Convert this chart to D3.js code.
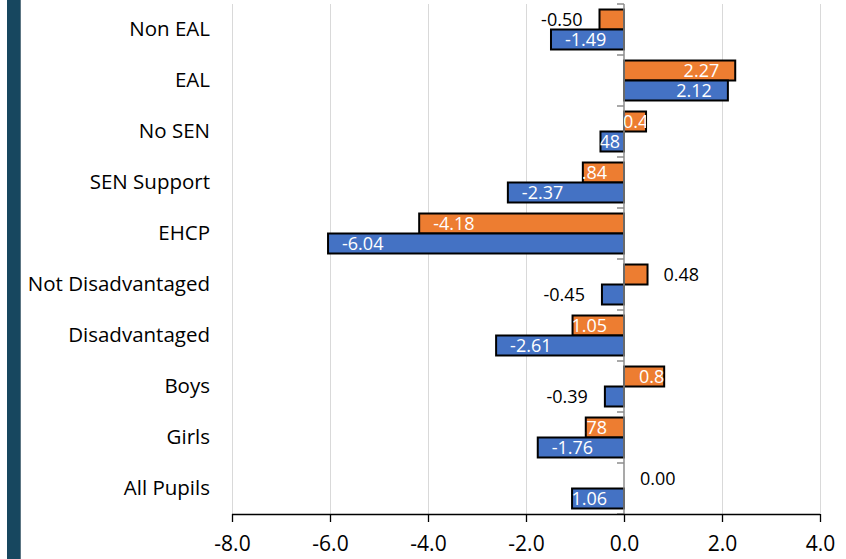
<!DOCTYPE html>
<html>
<head>
<meta charset="utf-8">
<script src="https://cdn.jsdelivr.net/npm/d3@7"></script>
<style>
  html, body { margin: 0; padding: 0; background: #fff; }
  svg { display: block; font-family: "Open Sans", "Liberation Sans", sans-serif; }
</style>
</head>
<body>
<svg id="chart" width="846" height="559"></svg>
<script>
// ---- data ----
const categories = ["Non EAL", "EAL", "No SEN", "SEN Support", "EHCP",
  "Not Disadvantaged", "Disadvantaged", "Boys", "Girls", "All Pupils"];
const seriesOrange = [-0.50, 2.27, 0.45, -0.84, -4.18, 0.48, -1.05, 0.82, -0.78, 0.00];
const seriesBlue = [-1.49, 2.12, -0.48, -2.37, -6.04, -0.45, -2.61, -0.39, -1.76, -1.06];
const xTickValues = [-8, -6, -4, -2, 0, 2, 4];

// ---- layout ----
const svg = d3.select("#chart");
const plot = { left: 232, right: 820, top: 4, bottom: 514 };
const colors = { o: "#ED7D31", b: "#4472C4" };
// labels that sit outside their bar in black
const outsideLabels = new Set(["o|Non EAL", "o|Not Disadvantaged", "o|All Pupils",
  "b|Not Disadvantaged", "b|Boys"]);

const loc = d3.formatLocale({ decimal: ".", thousands: ",", grouping: [3], currency: ["", ""], minus: "-" });
const fmt2 = loc.format(".2f");
const fmt1 = loc.format(".1f");

const x = d3.scaleLinear().domain([-8, 4]).range([plot.left, plot.right]);
const y = d3.scaleBand().domain(categories).range([plot.top, plot.bottom])
  .paddingInner(0.216).paddingOuter(0.108);
const ySub = d3.scaleBand().domain(["o", "b"]).range([0, y.bandwidth()]);

const rows = categories.map((c, i) => ({ cat: c, o: seriesOrange[i], b: seriesBlue[i] }));

// left decorative band
svg.append("rect").attr("x", 7).attr("y", 0).attr("width", 14).attr("height", 559).attr("fill", "#17475F");
svg.append("rect").attr("x", 20).attr("y", 0).attr("width", 1).attr("height", 559).attr("fill", "#5d7684");

// gridlines
svg.append("g").selectAll("line").data(xTickValues.filter(v => v !== 0)).join("line")
  .attr("x1", d => x(d) + 0.5).attr("x2", d => x(d) + 0.5)
  .attr("y1", plot.top).attr("y2", plot.bottom)
  .attr("stroke", "#d9d9d9").attr("stroke-width", 1);

// bars
const defs = svg.append("defs");
const barItems = [];
rows.forEach((r, i) => {
  ["o", "b"].forEach(k => {
    barItems.push({ cat: r.cat, key: k, v: r[k], id: "clip" + i + k });
  });
});
const barX = d => Math.min(x(0), x(d.v));
const barW = d => Math.abs(x(d.v) - x(0));
const barY = d => y(d.cat) + ySub(d.key);
const barH = ySub.bandwidth();

defs.selectAll("clipPath").data(barItems).join("clipPath").attr("id", d => d.id)
  .append("rect").attr("x", barX).attr("y", barY).attr("width", barW).attr("height", barH);

svg.append("g").selectAll("rect").data(barItems).join("rect")
  .attr("x", barX).attr("y", barY).attr("width", barW).attr("height", barH)
  .attr("fill", d => colors[d.key]).attr("stroke", "#000").attr("stroke-width", 2);

// zero axis (category axis)
const zx = x(0);
svg.append("line").attr("x1", zx).attr("x2", zx).attr("y1", plot.top).attr("y2", plot.bottom)
  .attr("stroke", "#8c8c8c").attr("stroke-width", 1.5);
const bounds = d3.range(categories.length + 1).map(i => plot.top + i * y.step());
svg.append("g").selectAll("line").data(bounds).join("line")
  .attr("x1", zx - 7).attr("x2", zx).attr("y1", d => d).attr("y2", d => d)
  .attr("stroke", "#8c8c8c").attr("stroke-width", 1.5);

// x axis
const xAxis = svg.append("g").attr("transform", `translate(0,${plot.bottom})`)
  .call(d3.axisBottom(x).tickValues(xTickValues).tickFormat(fmt1).tickSize(8).tickPadding(14));
xAxis.select(".domain").attr("stroke", "#000").attr("stroke-width", 1.3).attr("d", `M${plot.left},0.5H${plot.right}`);
xAxis.selectAll(".tick line").attr("stroke", "#000").attr("stroke-width", 1.3);
xAxis.selectAll(".tick text").attr("fill", "#000").attr("font-size", 21)
  .attr("font-family", "'Open Sans', sans-serif");

// category labels
svg.append("g").selectAll("text").data(categories).join("text")
  .attr("x", 210).attr("y", d => y(d) + y.bandwidth() / 2)
  .attr("dy", "0.33em").attr("text-anchor", "end")
  .attr("font-size", 20.5).attr("fill", "#000").text(d => d);

// data labels
const lbl = svg.append("g").attr("font-size", 18);
barItems.forEach(d => {
  const outside = outsideLabels.has(d.key + "|" + d.cat);
  const t = lbl.append("text").attr("y", barY(d) + barH / 2).attr("dy", "0.36em")
    .attr("text-anchor", "start").text(fmt2(d.v));
  const w = t.node().getComputedTextLength();
  const end = x(d.v), len = Math.abs(end - zx);
  let left;
  if (outside) {
    t.attr("fill", "#000");
    left = d.v < 0 ? end - 17 - w : end + 16;
  } else {
    t.attr("fill", "#fff").attr("clip-path", `url(#${d.id})`);
    if (d.v < 0) {
      if (len < 30) left = zx - 4 - w;
      else left = Math.min(end + 14, zx - 17 - w);
    } else {
      if (len < 30) left = zx - 1;
      else left = Math.max(end - 16 - w, zx + 15);
    }
  }
  t.attr("x", left);
});
</script>
</body>
</html>
